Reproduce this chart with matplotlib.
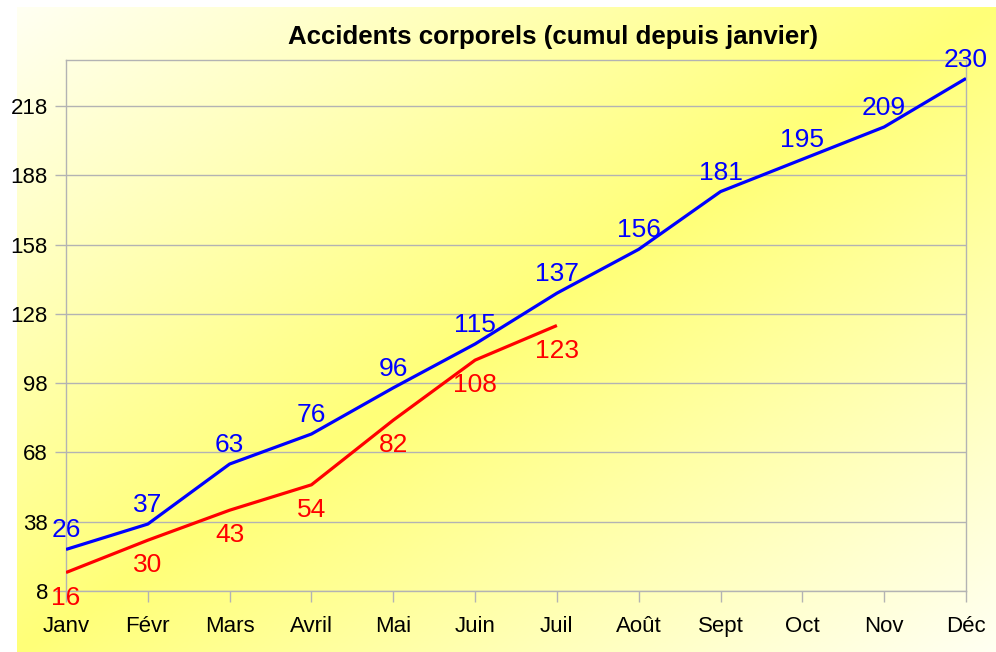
import numpy as np
import matplotlib.pyplot as plt
from matplotlib.colors import LinearSegmentedColormap

# Data
months = ['Janv', 'Févr', 'Mars', 'Avril', 'Mai', 'Juin', 'Juil',
          'Août', 'Sept', 'Oct', 'Nov', 'Déc']
blue_vals = [26, 37, 63, 76, 96, 115, 137, 156, 181, 195, 209, 230]
red_vals = [16, 30, 43, 54, 82, 108, 123]
yticks = [8, 38, 68, 98, 128, 158, 188, 218]

plt.rcParams['font.family'] = ['Liberation Sans', 'DejaVu Sans']

fig = plt.figure(figsize=(9.96, 6.52), dpi=100)

# diagonal gradient background: pale top-left / bottom-right, yellow across the middle
bg = fig.add_axes([17 / 996, 0, 1 - 17 / 996, 1 - 7 / 652], zorder=-10)
gx, gy = np.meshgrid(np.linspace(0, 1, 400), np.linspace(0, 1, 300))
t = np.abs((gx + gy) / 2 - 0.5) * 2
cmap = LinearSegmentedColormap.from_list('bgy', ['#ffff78', '#fffff2'])
bg.imshow(t, cmap=cmap, aspect='auto', extent=[0, 1, 0, 1], origin='upper')
bg.axis('off')

ax = fig.add_axes([66 / 996, 1 - 591 / 652, 900 / 996, 531 / 652])
ax.patch.set_alpha(0)

x = np.arange(len(months))
ax.plot(x, blue_vals, color='#0000ff', lw=2.3, solid_capstyle='butt', zorder=3)
ax.plot(x[:len(red_vals)], red_vals, color='#ff0000', lw=2.3, solid_capstyle='butt', zorder=3)

for xi, v in zip(x, blue_vals):
    ax.annotate(str(v), (xi, v), xytext=(0, 5), textcoords='offset points',
                ha='center', va='bottom', color='#0000ff', fontsize=19)
for xi, v in zip(x, red_vals):
    ax.annotate(str(v), (xi, v), xytext=(0, -9.5), textcoords='offset points',
                ha='center', va='top', color='#ff0000', fontsize=19)

ax.set_xlim(0, len(months) - 1)
ax.set_ylim(8, 238)
ax.set_yticks(yticks)
ax.set_xticks(x)
ax.set_xticklabels(months)
ax.tick_params(axis='both', labelsize=16, colors='#b3b3b3', labelcolor='black',
               length=8, width=1)
ax.tick_params(axis='x', pad=10)
ax.tick_params(axis='y', pad=5)
ax.grid(axis='y', color='#b3b3b3', lw=1)
ax.set_axisbelow(True)
for s in ax.spines.values():
    s.set_color('#b3b3b3')
    s.set_linewidth(1)

fig.text(553 / 996, 1 - 37 / 652, 'Accidents corporels (cumul depuis janvier)',
         ha='center', va='center', fontsize=18.6, fontweight='bold')

fig.savefig('out.png', dpi=100)
